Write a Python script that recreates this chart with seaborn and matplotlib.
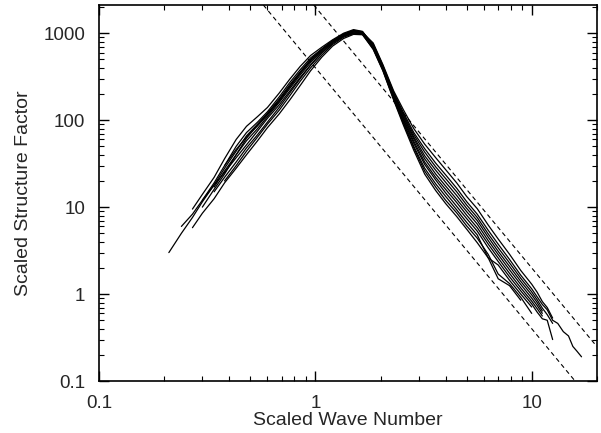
import numpy as np
import pandas as pd
import matplotlib
matplotlib.use("Agg")
import matplotlib.pyplot as plt
import seaborn as sns

# scaled wave number grid shared by all runs
k_grid = [0.21, 0.24, 0.27, 0.30, 0.34, 0.38, 0.43, 0.48, 0.54, 0.60, 0.68, 0.76,
          0.85, 0.95, 1.07, 1.2, 1.35, 1.5, 1.65, 1.85, 2.05, 2.3, 2.55, 2.85,
          3.2, 3.6, 4.0, 4.5, 5.0, 5.6, 6.3, 7.0, 7.9, 8.9, 10.0, 10.6, 11.2,
          11.8, 12.5, 13.2, 14.0, 14.8, 15.5, 16.2, 17.0]

# scaled structure factor for each run, (first grid index, values)
run1 = (0, [3.0, 5.0, 7.6, 11.5, 18, 25, 37, 52, 75, 105, 150, 215, 310, 430, 600, 780, 930, 1010, 980,
            752, 425, 209, 123, 72, 47, 32, 23.5, 16.5, 11.6, 8.3, 5.4, 3.75, 2.5, 1.65, 1.15, 0.93,
            0.76, 0.66, 0.5, 0.46, 0.37, 0.33, 0.25, 0.22, 0.19])
run2 = (1, [6.0, 8.3, 12, 19, 30, 50, 72, 95, 125, 185, 270, 380, 520, 660, 820, 960, 1060, 1020,
            772, 437, 217, 132, 80, 53, 37, 27, 19, 13.3, 9.6, 6.2, 4.3, 2.87, 1.87, 1.3, 1.05,
            0.82, 0.7, 0.53])
run3 = (2, [9.5, 14, 22, 36, 60, 85, 110, 140, 205, 295, 415, 555, 690, 840, 1000, 1100, 1050,
            725, 411, 198, 113, 64, 39, 26.5, 19.3, 13.6, 9.7, 7.0, 4.5, 3.1, 2.08, 1.4, 0.98, 0.8, 0.64])
run4 = (2, [5.8, 8.5, 12.5, 19, 28, 40, 58, 82, 118, 170, 250, 370, 530, 710, 870, 970, 960,
            662, 376, 174, 92, 48, 26, 17, 12, 8.6, 6.1, 4.4, 2.85, 1.7, 1.32, 0.92, 0.6])
run5 = (3, [10, 16, 24, 40, 62, 88, 118, 170, 245, 350, 480, 640, 800, 950, 1040, 1000,
            698, 396, 189, 104, 57, 33, 22, 16, 11.3, 8.1, 5.8, 3.75, 2.6, 1.73, 1.18, 0.83, 0.68, 0.56])
run6 = (3, [12, 18, 28, 44, 66, 90, 120, 175, 255, 360, 500, 650, 810, 980, 1080, 1040,
            738, 418, 204, 118, 68, 43, 29, 21.3, 15, 10.6, 7.6, 4.9, 3.4, 2.28, 1.52, 1.06, 0.86,
            0.69, 0.58, 0.46])
run7 = (4, [15, 22, 33, 48, 68, 95, 140, 205, 300, 430, 590, 760, 920, 1000, 970,
            650, 370, 170, 88, 45, 24, 15.5, 11, 7.8, 5.6, 3.9, 2.6, 1.5, 1.25, 0.85])
run8 = (4, [17, 26, 40, 58, 80, 110, 160, 230, 330, 460, 620, 790, 940, 1030, 1010,
            686, 390, 184, 100, 54, 31, 20.5, 14.6, 10.2, 7.4, 5.3, 3.4, 2.37, 1.58, 1.09, 0.77, 0.62,
            0.52, 0.5, 0.3])
run9 = (5, [20, 30, 44, 64, 90, 130, 190, 280, 400, 560, 740, 900, 990, 990,
            674, 383, 179, 96, 50, 28, 18.5, 13.3, 9.3, 6.7, 4.8, 2.6, 2.16, 1.44, 1.0, 0.71])
run10 = (5, [30, 46, 64, 86, 115, 165, 240, 345, 490, 650, 820, 970, 1060, 1030,
             712, 404, 193, 108, 61, 36, 24, 17.5, 12.3, 8.9, 6.4, 4.1, 2.85, 1.9, 1.29, 0.9, 0.74, 0.6])

runs = [run1, run2, run3, run4, run5, run6, run7, run8, run9, run10]

# dashed guide lines S = A * k^-3
guide_amp = [400, 2000]
guide_slope = -3
guide_k = [0.1, 20]

rows = []
for r, (start, vals) in enumerate(runs):
    for i, v in enumerate(vals):
        rows.append({"run": r, "k": k_grid[start + i], "S": v})
df = pd.DataFrame(rows)

sns.set_style("ticks")
plt.rcParams['font.family'] = ['Liberation Sans', 'DejaVu Sans']

fig = plt.figure(figsize=(6.01, 4.33), dpi=100)
ax = fig.add_axes([0.165, 0.12, 0.828, 0.868])

sns.lineplot(data=df, x="k", y="S", units="run", estimator=None, color="black",
             lw=0.9, sort=True, ax=ax)

for a in guide_amp:
    gk = np.array(guide_k)
    ax.plot(gk, a * gk ** guide_slope, color="black", lw=0.8, ls=(0, (4, 3)))

ax.set_xscale("log")
ax.set_yscale("log")
ax.set_xlim(0.1, 20)
ax.set_ylim(0.1, 2100)

ax.set_xticks([0.1, 1, 10])
ax.set_xticklabels(["0.1", "1", "10"])
ax.set_yticks([0.1, 1, 10, 100, 1000])
ax.set_yticklabels(["0.1", "1", "10", "100", "1000"])
ax.tick_params(which="both", direction="in", top=True, right=True, labelsize=13.5, color="black")
ax.tick_params(which="major", length=7, width=1.0)
ax.tick_params(which="minor", length=3.5, width=0.8)
ax.tick_params(axis="x", which="major", pad=10)
ax.tick_params(axis="y", which="major", pad=10)
for s in ax.spines.values():
    s.set_linewidth(1.2)
    s.set_color("black")

ax.set_xlabel("Scaled Wave Number", fontsize=14, labelpad=0)
ax.set_ylabel("Scaled Structure Factor", fontsize=14, labelpad=8)

fig.savefig("out.png", dpi=100)
